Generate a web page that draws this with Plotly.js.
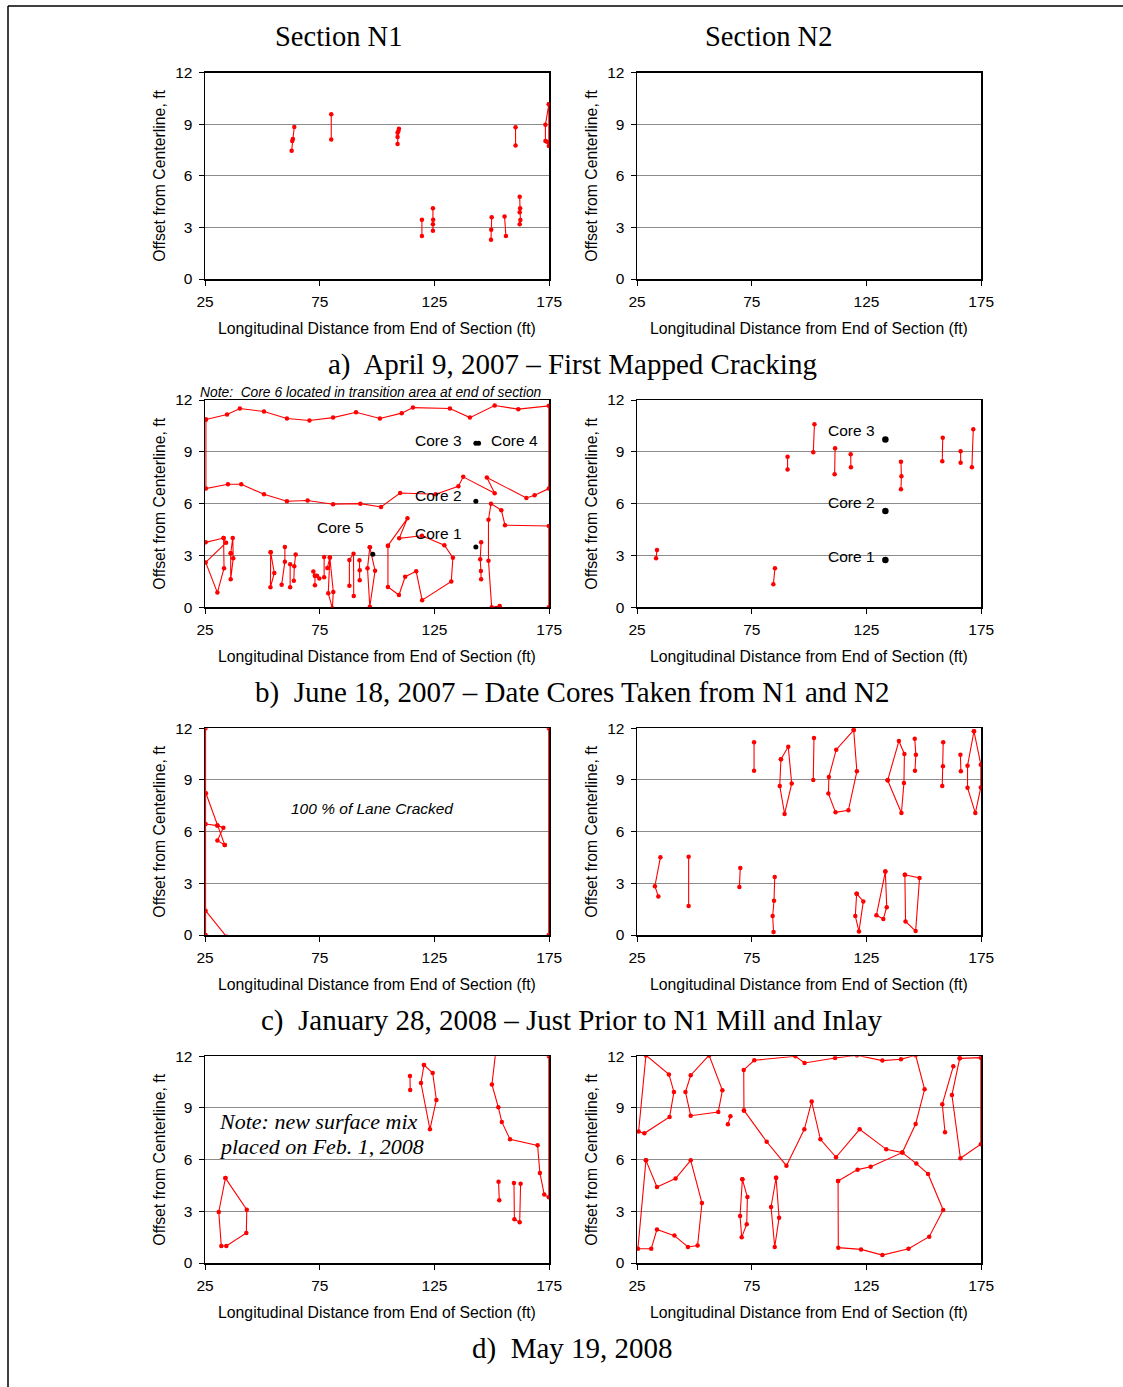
<!DOCTYPE html>
<html><head><meta charset="utf-8">
<script src="https://cdn.plot.ly/plotly-3.0.1.min.js"></script>
<style>body{margin:0;padding:0;background:#fff}#chart{width:1123px;height:1387px}</style>
</head><body><div id="chart"></div>
<script>
// ---------- tick labels / axis values ----------
const xTicks = [25, 75, 125, 175];
const yTicks = [0, 3, 6, 9, 12];
const sectionNames = ["Section N1", "Section N2"];
const captions = [
  "a)&nbsp; April 9, 2007 – First Mapped Cracking",
  "b)&nbsp; June 18, 2007 – Date Cores Taken from N1 and N2",
  "c)&nbsp; January 28, 2008 – Just Prior to N1 Mill and Inlay",
  "d)&nbsp; May 19, 2008"
];

// ---------- (a) April 9, 2007 ----------
const n1Apr_x = [[62.75,63.0,63.3,63.9],[80.0,80.0],[108.9,108.9,108.9,109.2,109.5],[119.5,119.5],[124.3,124.4,124.3,124.3],[149.6,149.7,149.9],[155.5,156.1],[160.3,160.3],[162.1,162.3,162.1,162.4,162.1],[174.8,173.3,173.3,174.0,174.8,174.8]];
const n1Apr_y = [[7.46,8.02,8.14,8.84],[9.59,8.12],[7.85,8.26,8.51,8.59,8.74],[2.50,3.45],[4.11,3.45,3.18,2.81],[2.29,2.87,3.59],[3.64,2.50],[8.82,7.77],[4.79,4.11,3.88,3.43,3.18],[10.16,8.97,8.02,7.98,7.73,10.16]];
const n2Apr_x = [];
const n2Apr_y = [];

// ---------- (b) June 18, 2007 ----------
const n1Jun_x = [
  [25.4,34.6,40.2,50.7,60.7,70.5,80.8,90.8,101.2,110.7,115.6,131.7,140.4,151.2,161.5,174.8,174.8,168.6,165.0,147.8,151.2,137.5,135.4,125.5,110.0,101.7,92.7,80.8,69.7,60.7,50.7,40.8,35.0,25.4,25.4],
  [25.3,33.1,34.2,25.3,30.4,33.3,33.1],
  [36.2,37.1,37.3,36.2,36.2],
  [53.6,55.2,53.5,53.6],
  [59.8,59.8,58.4],
  [62.1,62.1],
  [64.5,63.9,63.7],
  [72.2,72.9,73.8,74.8],
  [72.9,72.9],
  [76.9,76.9],
  [78.3,79.4,80.9,80.5,78.7,79.4],
  [87.9,87.9,89.7,89.8],
  [92.3,92.4,92.4],
  [96.8,99.1,96.8,95.8,96.8],
  [104.7,113.2,109.6,119.5,129.3,133.0,132.3,119.6,117.0,112.2,109.5,104.7,104.7],
  [145.3,144.9,145.2,145.3],
  [174.8,174.8,155.7,154.1,149.6,148.5,148.5,149.9,153.4,158.0]
];
const n1Jun_y = [
  [10.87,11.16,11.51,11.33,10.93,10.81,10.98,11.29,10.93,11.24,11.56,11.51,10.98,11.68,11.47,11.66,6.87,6.49,6.33,7.51,6.60,7.55,7.01,6.54,6.62,5.81,6.00,5.97,6.18,6.14,6.54,7.12,7.12,6.87,10.87],
  [3.76,4.01,3.74,2.60,0.85,2.26,4.01],
  [3.13,4.01,2.84,1.62,3.13],
  [3.18,1.99,1.16,3.18],
  [3.49,2.64,1.31],
  [2.49,1.16],
  [3.05,2.37,1.54],
  [2.07,1.83,1.83,1.66],
  [1.83,1.27],
  [2.91,1.74],
  [2.28,2.88,0.89,-0.05,0.81,2.88],
  [1.25,2.74,3.10,0.65],
  [2.72,2.14,1.56],
  [3.47,2.12,0.03,2.26,3.47],
  [3.57,5.15,3.99,4.14,3.59,2.87,1.50,0.41,2.08,1.77,0.71,1.18,3.57],
  [3.76,2.78,2.10,1.62],
  [0,4.71,4.75,5.62,6.00,5.07,2.70,0.0,0.08,-0.3]
];
const n1JunCore_x = [143.0,144.2,143.0,143.0,98.1];
const n1JunCore_y = [9.49,9.49,6.14,3.49,3.07];
const n2Jun_x = [[33.3,33.7],[84.4,85.1],[90.6,90.6],[101.8,102.3],[111.1,111.3],[118.2,118.1],[140.0,140.2,140.0],[158.0,158.2],[166.0,166.0],[170.9,171.5]];
const n2Jun_y = [[2.84,3.32],[1.33,2.26],[7.97,8.72],[8.97,10.59],[7.70,9.20],[8.10,8.86],[6.83,7.58,8.43],[8.45,9.82],[8.37,9.03],[8.10,10.30]];
const n2JunCore_x = [133.2,133.2,133.2];
const n2JunCore_y = [9.72,5.58,2.74];

// ---------- (c) January 28, 2008 ----------
const n1Jan_x = [[25.25,25.25],[174.75,174.75],[25.4,30.4,33.6],[25.25,30.4,33.0,30.4,33.6],[25.25,34.4]];
const n1Jan_y = [[0,12],[0,12],[8.23,6.35,5.23],[6.44,6.35,6.23,5.48,5.23],[1.41,-0.1]];
const n2Jan_x = [
  [76.0,76.0],[87.7,90.9,92.4,89.3,87.2,87.7],[101.8,102.1],
  [119.4,120.8,117.1,111.5,108.4,108.6,111.8,119.4],
  [134.2,139.1,141.5,141.3,140.2,134.2],[146.0,146.5,146.1],[158.4,158.3,158.0],[165.9,166.1],
  [171.8,174.8,174.8,172.4,169.0,169.0,171.8],
  [35.2,32.8,34.3],[47.5,47.5],[70.0,69.6],[85.0,84.7,84.1,84.5],
  [120.7,123.6,121.7,120.1,120.7],[133.2,133.8,132.3,129.3,133.2],[141.7,148.1,146.4,142.0,141.7]
];
const n2Jan_y = [
  [11.19,9.54],[10.20,10.93,8.79,7.03,8.65,10.20],[9.00,11.44],
  [11.90,9.50,7.24,7.12,8.21,9.17,10.76,11.90],
  [8.98,11.26,10.51,8.83,7.08,8.98],[11.40,10.47,9.54],[11.19,9.79,8.65],[10.47,9.50],
  [11.83,9.89,8.57,7.08,8.55,9.83,11.83],
  [4.51,2.83,2.24],[4.55,1.68],[3.89,2.79],[3.37,1.99,1.10,0.17],
  [2.40,1.95,0.21,1.10,2.40],[3.68,1.61,0.93,1.14,3.68],[3.50,3.31,0.23,0.79,3.50]
];

// ---------- (d) May 19, 2008 ----------
const n1May_x = [[33.9,43.2,43.0,34.3,32.1,31.0,33.9],[114.3,114.4],[120.4,124.2,125.8,123.0,119.1,120.4],[151.7,150.0,152.8,154.3,157.9,169.9,170.9,172.8,174.8,174.8],[152.9,153.2],[159.6,159.8,162.1,162.5]];
const n1May_y = [[4.93,3.09,1.74,0.99,0.99,2.96,4.93],[10.86,10.04],[11.50,11.03,9.46,7.76,10.45,11.50],[12.3,10.37,9.04,8.19,7.18,6.83,5.23,3.97,3.81,12],[4.72,3.64],[4.64,2.54,2.37,4.60]];
const n2May_x = [
  [28.9,38.9,41.1,39.2,28.2,25.7,28.9],
  [56.4,62.2,60.4,48.4,46.1,48.4,56.4],
  [64.6,65.7],
  [71.6,71.5,76.1,94.0,98.0,111.3,120.8,131.9,140.0,146.4,150.3,146.4,140.6,133.6,122.0,111.7,104.9,101.1,97.9,90.1,81.5,71.6],
  [165.6,174.8,174.8,165.9,162.2,165.6],
  [162.8,158.0,159.2],
  [28.9,33.7,41.8,48.4,53.3,51.4,47.2,41.3,33.7,31.2,25.4,28.9],
  [70.9,73.1,72.8,70.6,69.9,70.9],
  [85.6,86.9,85.0,83.4,85.6],
  [112.6,112.7,122.6,131.9,143.3,152.3,158.4,151.8,146.7,140.6,126.8,121.1,112.6]
];
const n2May_y = [
  [12.06,10.95,9.93,8.48,7.53,7.63,12.06],
  [12.06,10.03,8.77,8.55,9.93,10.90,12.06],
  [8.05,8.52],
  [8.86,11.21,11.77,12.0,11.61,11.90,12.06,11.75,11.83,12.06,10.08,8.07,6.41,6.60,7.76,6.14,7.18,9.37,7.76,5.65,7.04,8.86],
  [11.88,11.92,6.89,6.08,9.75,11.88],
  [11.42,9.21,7.59],
  [5.96,4.41,4.90,5.96,3.48,1.01,0.93,1.59,1.95,0.83,0.83,5.96],
  [4.86,3.83,2.25,1.49,2.73,4.86],
  [4.95,2.63,0.93,3.25,4.95],
  [4.76,0.89,0.79,0.46,0.83,1.53,3.08,5.17,5.77,6.41,5.59,5.42,4.76]
];

// ---------- build ----------
const W = 1123, H = 1387;
const SANS = "Liberation Sans, Arial, sans-serif";
const SERIF = "Liberation Serif, Times New Roman, serif";
const colPx = [[205, 549.3], [637, 981.3]];
const rowPx = [[72.7, 279], [400, 607.3], [728.3, 935], [1056.3, 1263]];
const panels = [
  [n1Apr_x, n1Apr_y], [n2Apr_x, n2Apr_y],
  [n1Jun_x, n1Jun_y], [n2Jun_x, n2Jun_y],
  [n1Jan_x, n1Jan_y], [n2Jan_x, n2Jan_y],
  [n1May_x, n1May_y], [n2May_x, n2May_y]
];

function joinSegs(segs) {
  const out = [];
  segs.forEach((s, i) => { if (i) out.push(null); s.forEach(v => out.push(v)); });
  return out;
}

const traces = [];
const layout = {
  width: W, height: H, margin: {l: 0, r: 0, t: 0, b: 0},
  paper_bgcolor: "#fff", plot_bgcolor: "#fff", showlegend: false,
  font: {family: SANS, color: "#000", size: 15.5},
  annotations: [], shapes: []
};

panels.forEach((p, i) => {
  const r = Math.floor(i / 2), c = i % 2;
  const n = i + 1;
  const xa = "xaxis" + (n === 1 ? "" : n), ya = "yaxis" + (n === 1 ? "" : n);
  const xr = "x" + (n === 1 ? "" : n), yr = "y" + (n === 1 ? "" : n);
  layout[xa] = {
    domain: [colPx[c][0] / W, colPx[c][1] / W], anchor: yr,
    range: [25, 175], tickvals: xTicks, ticks: "outside", ticklen: 5, tickcolor: "#000",
    showline: true, mirror: true, linecolor: "#000", linewidth: 1.5, showgrid: false, zeroline: false,
    layer: "below traces", ticklabelstandoff: 3,
    tickfont: {family: SANS, size: 15.5, color: "#000"}, fixedrange: true
  };
  layout[ya] = {
    domain: [1 - rowPx[r][1] / H, 1 - rowPx[r][0] / H], anchor: xr,
    range: [0, 12], tickvals: yTicks, ticks: "outside", ticklen: 5, tickcolor: "#000",
    showline: true, mirror: true, linecolor: "#000", linewidth: 1.5,
    showgrid: true, gridcolor: "#8c8c8c", gridwidth: 1, zeroline: false,
    layer: "below traces", ticklabelstandoff: 3,
    tickfont: {family: SANS, size: 15.5, color: "#000"}, fixedrange: true
  };
  traces.push({
    type: "scatter", mode: "lines+markers", xaxis: xr, yaxis: yr,
    x: p[0].length ? joinSegs(p[0]) : [null], y: p[1].length ? joinSegs(p[1]) : [null],
    connectgaps: false, cliponaxis: true,
    line: {color: "#ff0000", width: 1.1}, marker: {color: "#ff0000", size: 4.5}, hoverinfo: "skip"
  });
  // axis titles
  const cx = (colPx[c][0] + colPx[c][1]) / 2;
  layout.annotations.push({
    xref: "paper", yref: "paper", x: cx / W, y: 1 - (rowPx[r][1] + 49) / H,
    text: "Longitudinal Distance from End of Section (ft)", showarrow: false,
    xanchor: "center", yanchor: "middle", font: {family: SANS, size: 15.8, color: "#000"}
  });
  layout.annotations.push({
    xref: "paper", yref: "paper", x: (colPx[c][0] - 45) / W, y: 1 - ((rowPx[r][0] + rowPx[r][1]) / 2) / H,
    text: "Offset from Centerline, ft", showarrow: false, textangle: -90,
    xanchor: "center", yanchor: "middle", font: {family: SANS, size: 15.8, color: "#000"}
  });
});

// core sample points
traces.push({type: "scatter", mode: "markers", xaxis: "x3", yaxis: "y3", x: n1JunCore_x, y: n1JunCore_y,
  marker: {color: "#000", size: 5}, hoverinfo: "skip"});
traces.push({type: "scatter", mode: "markers", xaxis: "x4", yaxis: "y4", x: n2JunCore_x, y: n2JunCore_y,
  marker: {color: "#000", size: 6.5}, hoverinfo: "skip"});

function ann(xref, yref, x, y, text, xanchor, font) {
  layout.annotations.push({xref, yref, x, y, text, xanchor, yanchor: "middle", showarrow: false, font});
}
const coreFont = {family: SANS, size: 15.5, color: "#000"};
ann("x3", "y3", 137.8, 9.68, "Core 3", "right", coreFont);
ann("x3", "y3", 148.8, 9.68, "Core 4", "left", coreFont);
ann("x3", "y3", 137.8, 6.50, "Core 2", "right", coreFont);
ann("x3", "y3", 137.8, 4.28, "Core 1", "right", coreFont);
ann("x3", "y3", 84.2, 4.63, "Core 5", "center", coreFont);
ann("x4", "y4", 129.4, 10.26, "Core 3", "right", coreFont);
ann("x4", "y4", 129.4, 6.04, "Core 2", "right", coreFont);
ann("x4", "y4", 129.4, 2.93, "Core 1", "right", coreFont);
ann("x5", "y5", 98.1, 7.37, "<i>100 % of Lane Cracked</i>", "center", {family: SANS, size: 15.5, color: "#000"});
ann("x7", "y7", 30.2, 8.24, "<i>Note: new surface mix</i>", "left", {family: SERIF, size: 22, color: "#000"});
ann("x7", "y7", 30.2, 6.79, "<i>placed on Feb. 1, 2008</i>", "left", {family: SERIF, size: 22, color: "#000"});
ann("paper", "paper", 198 / W, 1 - 392 / H, "<i>Note:&nbsp; Core 6 located in transition area at end of section</i>", "left",
  {family: SANS, size: 13.8, color: "#000"});

// section titles and captions
ann("paper", "paper", 338 / W, 1 - 36 / H, sectionNames[0], "center", {family: SERIF, size: 28.5, color: "#000"});
ann("paper", "paper", 768 / W, 1 - 36 / H, sectionNames[1], "center", {family: SERIF, size: 28.5, color: "#000"});
const capY = [364, 692, 1020, 1348];
captions.forEach((t, k) => ann("paper", "paper", 572 / W, 1 - capY[k] / H, t, "center", {family: SERIF, size: 29, color: "#000"}));

// outer frame
layout.shapes.push({type: "line", xref: "paper", yref: "paper", x0: 8 / W, x1: 8 / W, y0: 1 - 6 / H, y1: 0, line: {color: "#000", width: 1.5}});
layout.shapes.push({type: "line", xref: "paper", yref: "paper", x0: 8 / W, x1: 1, y0: 1 - 6 / H, y1: 1 - 6 / H, line: {color: "#000", width: 1.5}});

Plotly.newPlot("chart", traces, layout, {staticPlot: true, displayModeBar: false});
</script>
</body></html>
